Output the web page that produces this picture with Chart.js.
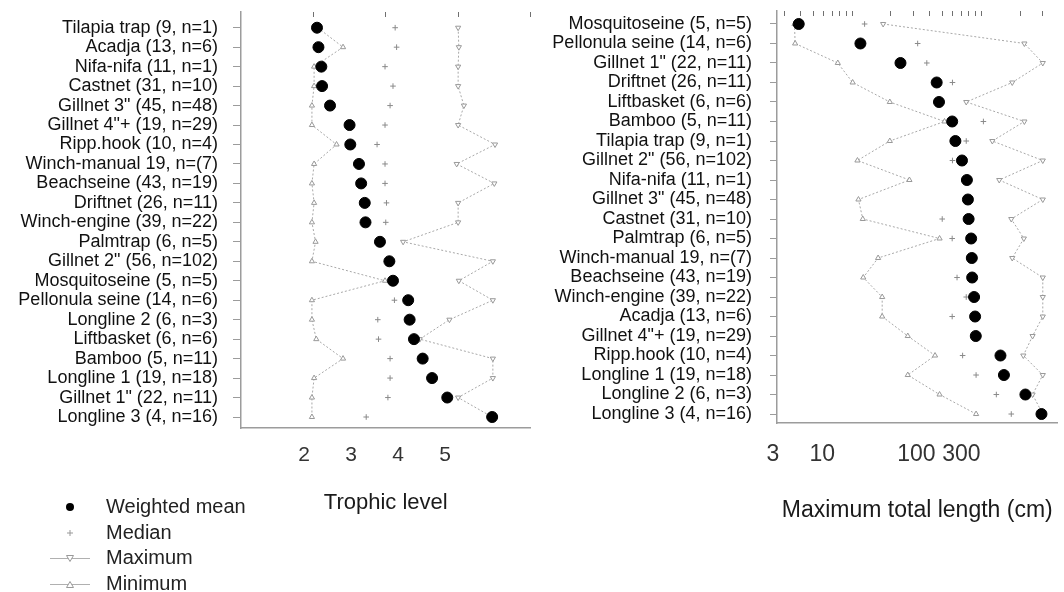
<!DOCTYPE html>
<html>
<head>
  <title>Trophic level and maximum total length by gear</title>
  <script src="https://cdn.jsdelivr.net/npm/chart.js"></script>
  <style>
    body { margin: 0; background: #fff; font-family: "Liberation Sans", Arial, sans-serif; }
    #wrap { position: relative; width: 1064px; height: 592px; overflow: hidden; }
    canvas { position: absolute; top: 0; }
    #tlChart { left: 0; }
    #lenChart { left: 540px; }
    #legend { position: absolute; left: 0; top: 494px; font-size: 20px; color: #222; }
    .item { position: relative; height: 25.5px; line-height: 25.5px; padding-left: 106px; white-space: nowrap; }
    .item svg { position: absolute; left: 48px; top: 0; }
  </style>
</head>
<body>
<div id="wrap">
  <canvas id="tlChart" width="540" height="530"></canvas>
  <canvas id="lenChart" width="524" height="530"></canvas>
  <div id="legend">
    <div class="item"><svg width="44" height="26"><circle cx="22" cy="13" r="4" fill="#000"/></svg>Weighted mean</div>
    <div class="item"><svg width="44" height="26"><path d="M22 10v6M19 13h6" stroke="#999" stroke-width="1"/></svg>Median</div>
    <div class="item"><svg width="44" height="26"><path d="M2 13.5h40" stroke="#b0b0b0"/><path d="M18.5 10.5h7l-3.5 6z" fill="#fff" stroke="#999"/></svg>Maximum</div>
    <div class="item"><svg width="44" height="26"><path d="M2 13.5h40" stroke="#b0b0b0"/><path d="M18.5 16.5h7l-3.5 -6z" fill="#fff" stroke="#999"/></svg>Minimum</div>
  </div>
</div>

<script>
  // --- trophic level panel (gears ordered top to bottom) ---
  const tlGears = ['Tilapia trap (9, n=1)', 'Acadja (13, n=6)', 'Nifa-nifa (11, n=1)', 'Castnet (31, n=10)',
    'Gillnet 3" (45, n=48)', 'Gillnet 4"+ (19, n=29)', 'Ripp.hook (10, n=4)', 'Winch-manual 19, n=(7)',
    'Beachseine (43, n=19)', 'Driftnet (26, n=11)', 'Winch-engine (39, n=22)', 'Palmtrap (6, n=5)',
    'Gillnet 2" (56, n=102)', 'Mosquitoseine (5, n=5)', 'Pellonula seine (14, n=6)', 'Longline 2 (6, n=3)',
    'Liftbasket (6, n=6)', 'Bamboo (5, n=11)', 'Longline 1 (19, n=18)', 'Gillnet 1" (22, n=11)', 'Longline 3 (4, n=16)'];
  const tlMean   = [2.05, 2.07, 2.11, 2.12, 2.23, 2.50, 2.51, 2.63, 2.66, 2.71, 2.72, 2.92, 3.05, 3.10, 3.31, 3.33, 3.39, 3.51, 3.64, 3.85, 4.47];
  const tlMedian = [3.13, 3.15, 2.99, 3.10, 3.06, 2.99, 2.88, 2.99, 2.99, 3.01, 3.00, 2.93, 3.05, 3.10, 3.12, 2.89, 2.90, 3.06, 3.06, 3.03, 2.73];
  const tlMax    = [4.00, 4.01, 4.00, 4.00, 4.08, 4.00, 4.51, 3.98, 4.50, 4.00, 4.00, 3.24, 4.48, 4.01, 4.48, 3.88, 3.47, 4.48, 4.48, 4.00, 4.47];
  const tlMin    = [2.06, 2.41, 2.01, 2.01, 1.98, 1.98, 2.32, 2.01, 1.98, 2.01, 1.98, 2.03, 1.98, 2.99, 1.98, 1.98, 2.04, 2.41, 2.01, 1.98, 1.98];
  const tlTicks = [2, 3, 4, 5];          // small marks along the top
  const tlTickLabels = [2, 3, 4, 5];     // numbers printed under the panel

  // --- maximum total length panel (cm, log scale) ---
  const lenGears = ['Mosquitoseine (5, n=5)', 'Pellonula seine (14, n=6)', 'Gillnet 1" (22, n=11)', 'Driftnet (26, n=11)',
    'Liftbasket (6, n=6)', 'Bamboo (5, n=11)', 'Tilapia trap (9, n=1)', 'Gillnet 2" (56, n=102)', 'Nifa-nifa (11, n=1)',
    'Gillnet 3" (45, n=48)', 'Castnet (31, n=10)', 'Palmtrap (6, n=5)', 'Winch-manual 19, n=(7)', 'Beachseine (43, n=19)',
    'Winch-engine (39, n=22)', 'Acadja (13, n=6)', 'Gillnet 4"+ (19, n=29)', 'Ripp.hook (10, n=4)', 'Longline 1 (19, n=18)',
    'Longline 2 (6, n=3)', 'Longline 3 (4, n=16)'];
  const lenMean   = [3.86, 11.6, 23.7, 45.2, 47.1, 59.6, 63.1, 71.0, 77.5, 78.9, 79.9, 83.6, 84.6, 85.1, 88.1, 89.7, 90.8, 141, 150, 220, 293];
  const lenMedian = [12.5, 32.2, 37.9, 59.9, 46.5, 104, 76.6, 59.9, 77.5, 78.9, 49.9, 59.6, 84.6, 65.0, 76.6, 59.6, 87.7, 71.8, 91.3, 131, 171];
  const lenMax    = [17.4, 216, 300, 174, 76.6, 216, 122, 300, 138, 300, 171, 214, 174, 300, 300, 300, 250, 212, 300, 250, 300];
  const lenMin    = [3.58, 3.62, 7.75, 10.1, 19.6, 52.0, 19.6, 11.0, 27.8, 11.2, 12.1, 47.6, 15.9, 12.2, 17.1, 17.1, 27.0, 43.9, 27.0, 47.6, 91.3];
  const lenTicks = [3, 4, 5, 6, 7, 8, 9, 10, 20, 30, 40, 50, 60, 70, 80, 90, 100, 200, 300];
  const lenTickLabels = [3, 10, 100, 300];

  const FONT = "'Liberation Sans', Arial, sans-serif";
  const NARROW = "'Liberation Sans Narrow', 'Arial Narrow', 'Liberation Sans', Arial, sans-serif";
  const GRAY = '#9c9c9c';
  Chart.defaults.font.family = FONT;

  function pts(values) {
    return values.map((v, i) => ({ x: v, y: i }));
  }

  // stop the scales from asking for extra room at the chart edges
  function noEdgePad(s) {
    s.paddingTop = 0; s.paddingBottom = 0; s.paddingLeft = 0; s.paddingRight = 0;
  }

  function makeSets(mean, median, max, min) {
    const rangeLine = {
      showLine: true, borderColor: '#a8a8a8', borderWidth: 1, borderDash: [2, 2],
      pointStyle: 'triangle', pointRadius: 3, pointBackgroundColor: '#fff',
      pointBorderColor: '#999', pointBorderWidth: 1
    };
    return [
      { label: 'Weighted mean', data: pts(mean), pointStyle: 'circle', pointRadius: 5.5,
        backgroundColor: '#000', borderColor: '#000', showLine: false },
      { label: 'Median', data: pts(median), pointStyle: 'cross', pointRadius: 2.8,
        borderColor: '#8a8a8a', borderWidth: 1, showLine: false },
      Object.assign({ label: 'Maximum', data: pts(max), pointRotation: 180 }, rangeLine),
      Object.assign({ label: 'Minimum', data: pts(min), pointRotation: 0 }, rangeLine)
    ];
  }

  function panel(id, cats, sets, cfg) {
    return new Chart(document.getElementById(id), {
      type: 'scatter',
      data: { datasets: sets },
      options: {
        responsive: false,
        animation: false,
        layout: { padding: { left: 0, right: cfg.padRight, top: 0, bottom: 0 } },
        plugins: { legend: { display: false }, tooltip: { enabled: false } },
        scales: {
          x: {
            type: cfg.type, position: 'top', min: cfg.min, max: cfg.max,
            afterBuildTicks: s => { s.ticks = cfg.ticks.map(v => ({ value: v })); },
            afterFit: s => { s.height = cfg.top; noEdgePad(s); },
            border: { display: false },
            grid: { drawOnChartArea: false, tickLength: -5, color: '#707070', lineWidth: 1 },
            ticks: { display: false }
          },
          xLab: {
            type: cfg.type, position: 'bottom', min: cfg.labMin, max: cfg.labMax,
            afterBuildTicks: s => { s.ticks = cfg.labels.map(v => ({ value: v })); },
            afterFit: s => { s.height = cfg.bottomH; noEdgePad(s); },
            border: { color: GRAY, width: 1.5 },
            grid: { display: false },
            ticks: {
              callback: v => String(v), autoSkip: false, maxRotation: 0,
              font: { family: NARROW, size: cfg.labFont }, color: '#333',
              padding: cfg.labPad, labelOffset: cfg.labelOffset
            },
            title: {
              display: true, text: cfg.title, color: '#1a1a1a',
              font: { family: FONT, size: cfg.titleSize },
              padding: { top: 0, bottom: cfg.titlePad }
            }
          },
          y: {
            type: 'linear', reverse: true, min: cfg.yMin, max: cfg.yMax,
            afterBuildTicks: s => { s.ticks = cats.map((c, i) => ({ value: i })); },
            afterFit: s => { s.width = cfg.yW; noEdgePad(s); },
            border: { color: GRAY, width: 1.5 },
            grid: { drawOnChartArea: false, tickLength: cfg.tickLen, color: GRAY },
            ticks: {
              callback: v => cats[v], autoSkip: false,
              font: { size: 18 }, color: '#111', padding: cfg.yPad
            }
          }
        }
      }
    });
  }

  panel('tlChart', tlGears, makeSets(tlMean, tlMedian, tlMax, tlMin), {
    type: 'linear', min: 1, max: 5, ticks: tlTicks, top: 12,
    labMin: 0.66, labMax: 6.82, labels: tlTickLabels, labFont: 21, labPad: 7, labelOffset: 0,
    bottomH: 102, title: 'Trophic level', titleSize: 22, titlePad: 14,
    yMin: -0.807, yMax: 20.565, yW: 241, tickLen: 8, yPad: 15, padRight: 9.5
  });

  panel('lenChart', lenGears, makeSets(lenMean, lenMedian, lenMax, lenMin), {
    type: 'logarithmic', min: 2.62, max: 390, ticks: lenTicks, top: 11,
    labMin: 2.73, labMax: 2575, labels: lenTickLabels, labFont: 23, labPad: 10, labelOffset: -8,
    bottomH: 107, title: 'Maximum total length (cm)', titleSize: 23, titlePad: 6,
    yMin: -0.666, yMax: 20.46, yW: 237, tickLen: 7, yPad: 18, padRight: 2
  });
</script>
</body>
</html>
